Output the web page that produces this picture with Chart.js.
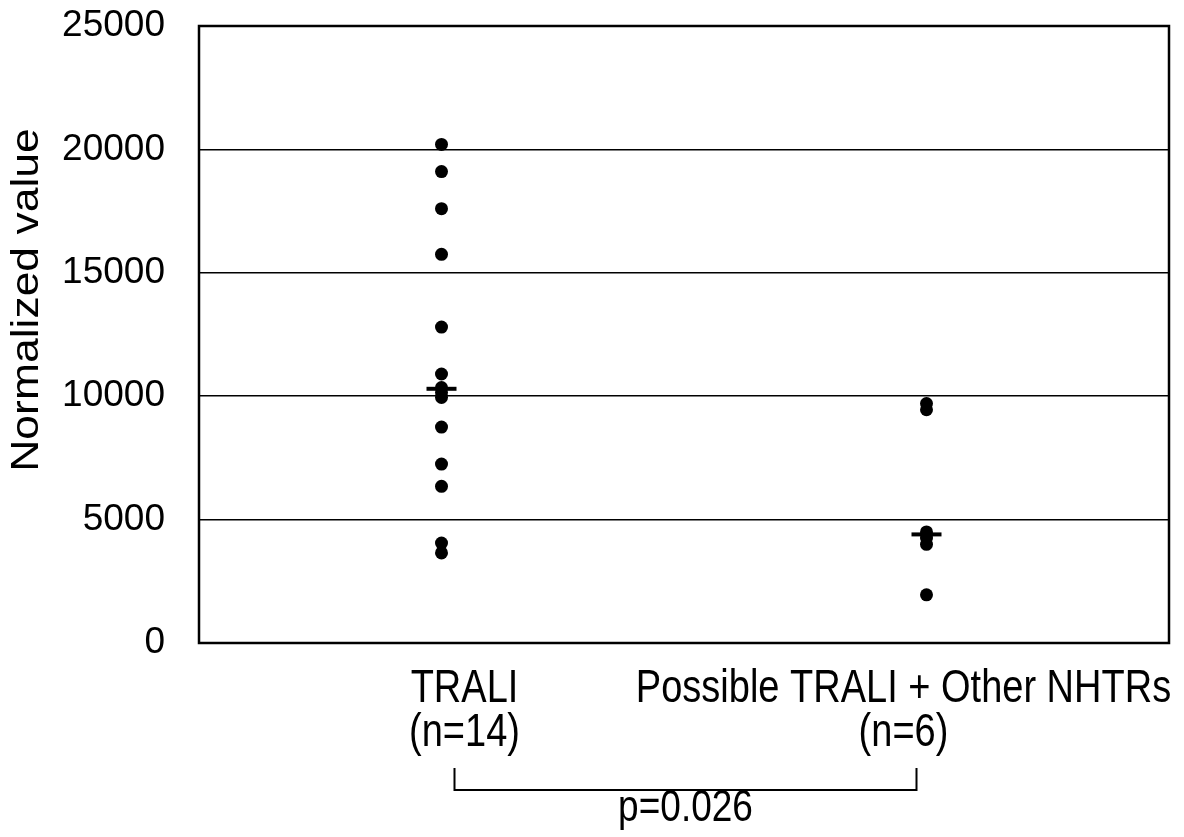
<!DOCTYPE html>
<html>
<head>
<meta charset="utf-8">
<script src="https://cdn.jsdelivr.net/npm/chart.js@4/dist/chart.umd.min.js"></script>
<style>
  body { margin: 0; background: #fff; }
  #chart { display: block; }
</style>
</head>
<body>
<canvas id="chart" width="1184" height="837"></canvas>
<script>
const groupLabels = [['TRALI', '(n=14)'], ['Possible TRALI + Other NHTRs', '(n=6)']];
const groupX = [1, 3];
const traliValues = [20200, 19100, 17600, 15750, 12800, 10900, 10350, 10150, 9950, 8750, 7250, 6350, 4050, 3650];
const otherValues = [9700, 9450, 4500, 4250, 4000, 1950];
const medianValues = [10300, 4400];
const yTicks = [0, 5000, 10000, 15000, 20000, 25000];
const yTitle = 'Normalized value';
const pValueText = 'p=0.026';

const fontFamily = '"Liberation Sans", Arial, Helvetica, sans-serif';

// the source figure is a bit taller than wide, so text is stretched vertically
function stretchedText(ctx, text, x, y, rotate) {
    ctx.save();
    ctx.translate(x, y);
    if (rotate) {
        ctx.rotate(-Math.PI / 2);
        ctx.scale(1.17, 1);
    } else {
        ctx.scale(1, 1.2);
    }
    ctx.fillText(text, 0, 0);
    ctx.restore();
}

// frame, axis title, group labels and the significance bracket
const extras = {
    id: 'extras',
    afterDraw(chart) {
        const ctx = chart.ctx;
        const a = chart.chartArea;
        const xs = chart.scales.x;

        ctx.save();
        ctx.strokeStyle = '#000';
        ctx.lineWidth = 2.5;
        ctx.strokeRect(a.left, a.top, a.right - a.left, a.bottom - a.top);

        ctx.fillStyle = '#000';
        ctx.textAlign = 'center';
        ctx.textBaseline = 'middle';

        ctx.font = '38px ' + fontFamily;
        stretchedText(ctx, yTitle, 28, a.top + 274, true);

        const shift = [23, -23];
        groupLabels.forEach((lines, i) => {
            const cx = xs.getPixelForValue(groupX[i]) + shift[i];
            stretchedText(ctx, lines[0], cx, a.bottom + 46);
            stretchedText(ctx, lines[1], cx, a.bottom + 90);
        });

        const x1 = xs.getPixelForValue(groupX[0]) + 13;
        const x2 = xs.getPixelForValue(groupX[1]) - 10;
        const top = a.bottom + 125;
        const bottom = a.bottom + 147;
        ctx.lineWidth = 2;
        ctx.beginPath();
        ctx.moveTo(x1, top);
        ctx.lineTo(x1, bottom);
        ctx.lineTo(x2, bottom);
        ctx.lineTo(x2, top);
        ctx.stroke();

        ctx.font = '37px ' + fontFamily;
        stretchedText(ctx, pValueText, (x1 + x2) / 2, a.bottom + 166);
        ctx.restore();
    }
};

new Chart(document.getElementById('chart'), {
    type: 'scatter',
    data: {
        datasets: [
            {
                label: 'TRALI',
                data: traliValues.map(v => ({ x: groupX[0], y: v })),
                backgroundColor: '#000',
                borderWidth: 0,
                pointRadius: 6.5,
                order: 2
            },
            {
                label: 'Possible TRALI + Other NHTRs',
                data: otherValues.map(v => ({ x: groupX[1], y: v })),
                backgroundColor: '#000',
                borderWidth: 0,
                pointRadius: 6.5,
                order: 2
            },
            {
                label: 'Median',
                data: medianValues.map((v, i) => ({ x: groupX[i], y: v })),
                pointStyle: 'line',
                pointRadius: 15,
                borderColor: '#000',
                borderWidth: 4,
                order: 1
            }
        ]
    },
    options: {
        responsive: false,
        animation: false,
        layout: {
            autoPadding: false,
            padding: { top: 26, right: 15, bottom: 194, left: 0 }
        },
        plugins: {
            legend: { display: false },
            tooltip: { enabled: false }
        },
        scales: {
            x: {
                type: 'linear',
                min: 0,
                max: 4,
                display: false
            },
            y: {
                min: 0,
                max: 25000,
                afterBuildTicks: (scale) => {
                    scale.ticks = yTicks.map(v => ({ value: v }));
                },
                afterFit: (scale) => {
                    scale.width = 199;
                    scale.paddingTop = 0;
                    scale.paddingBottom = 0;
                },
                ticks: {
                    color: '#000',
                    padding: 34,
                    font: { family: fontFamily, size: 37 },
                    callback: (v) => String(v)
                },
                grid: {
                    color: '#000',
                    lineWidth: 1.5,
                    drawTicks: false
                },
                border: { display: false },
                title: { display: false }
            }
        }
    },
    plugins: [extras]
});
</script>
</body>
</html>
